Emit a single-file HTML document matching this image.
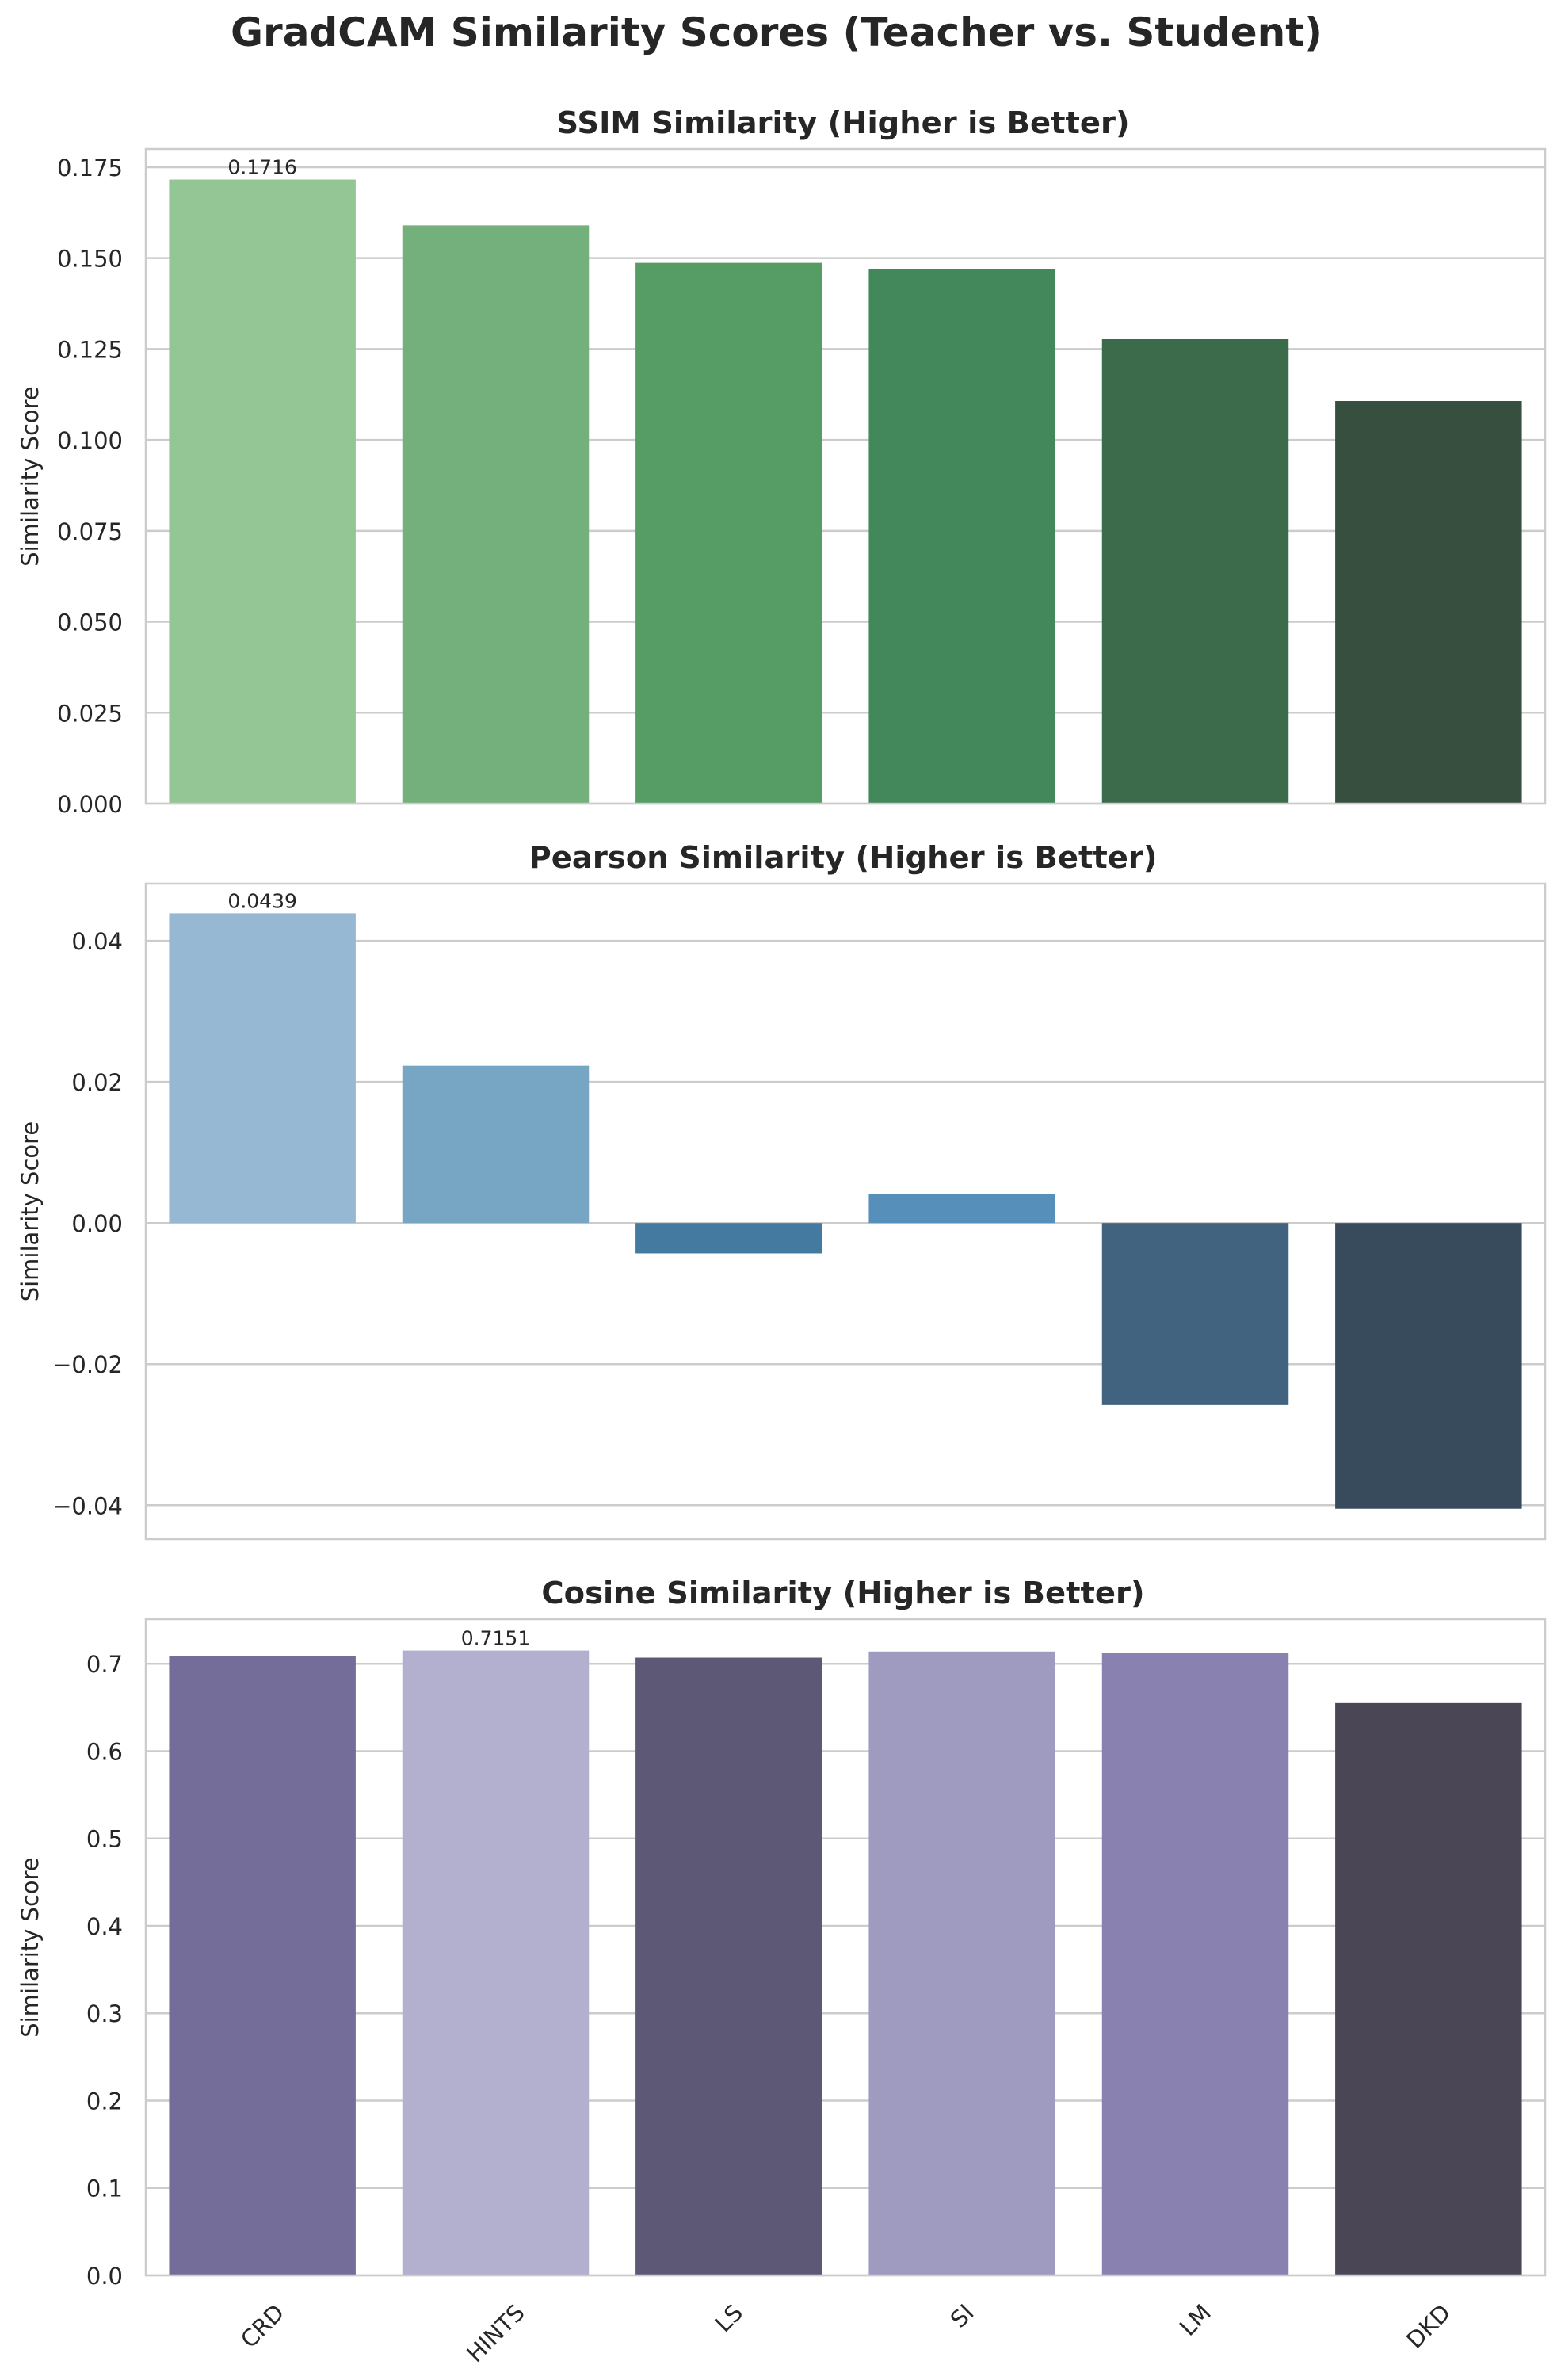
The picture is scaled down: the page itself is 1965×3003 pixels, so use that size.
<!DOCTYPE html>
<html><head><meta charset="utf-8"><style>
html,body{margin:0;padding:0;background:#fff;}
svg{display:block;font-family:"DejaVu Sans","Liberation Sans",sans-serif;}
</style></head><body>
<svg id="fig" width="1965" height="3003" viewBox="0 0 1965 3003" xmlns="http://www.w3.org/2000/svg">
<rect width="1965" height="3003" fill="#fff"/>
<text x="980" y="58" text-anchor="middle" font-size="50" font-weight="bold" fill="#262626">GradCAM Similarity Scores (Teacher vs. Student)</text>
</svg>
<script>
const categories = ["CRD","HINTS","LS","SI","LM","DKD"];
const ssimValues = [0.1716,0.159,0.1487,0.147,0.1277,0.1107];
const pearsonValues = [0.0439,0.0223,-0.0043,0.0041,-0.0258,-0.0405];
const cosineValues = [0.709,0.7151,0.707,0.714,0.712,0.655];
const ssimTicks = [0,0.025,0.05,0.075,0.1,0.125,0.15,0.175];
const ssimTickLabels = ["0.000","0.025","0.050","0.075","0.100","0.125","0.150","0.175"];
const pearsonTicks = [-0.04,-0.02,0,0.02,0.04];
const pearsonTickLabels = ["\u22120.04","\u22120.02","0.00","0.02","0.04"];
const cosineTicks = [0,0.1,0.2,0.3,0.4,0.5,0.6,0.7];
const cosineTickLabels = ["0.0","0.1","0.2","0.3","0.4","0.5","0.6","0.7"];
const ssimColors = ["#94c594","#74b07c","#559c65","#43885a","#3c6b4b","#374f3f"];
const pearsonColors = ["#96b8d2","#77a5c4","#4479a0","#568fb9","#416380","#384b5c"];
const cosineColors = ["#746c99","#b3afce","#5e5877","#9f9bc0","#8982b1","#4a4656"];

const NS="http://www.w3.org/2000/svg";
const svg=document.getElementById('fig');
function mk(tag,attrs,parent){const e=document.createElementNS(NS,tag);for(const k in attrs)e.setAttribute(k,attrs[k]);(parent||svg).appendChild(e);return e;}

function panel(key,title,vals,ticks,labels,colors,ymin,ymax,top,bottom,showX){
  const L=184,R=1950;
  const g=mk('g',{});
  
  
  const y=v=>bottom-(v-ymin)/(ymax-ymin)*(bottom-top);
  const band=(R-L)/vals.length;
  const x=i=>L+band*i+band*0.1;
  const t=mk('text',{x:(L+R)/2-3,y:top-20,'text-anchor':'middle','font-size':38.5,'font-weight':'bold',fill:'#262626'},g);
  t.textContent=title;
  
  
  ticks.forEach((v,i)=>{
    const gl=mk('line',{x1:L,x2:R,y1:y(v),y2:y(v),stroke:'#cccccc','stroke-width':2.5},g);
    
    
    const tl=mk('text',{x:L-29,y:y(v)+11,'text-anchor':'end','font-size':29,fill:'#262626'},g);
    tl.textContent=labels[i];
    
    
  });
  const zero=y(Math.max(ymin,0));
  vals.forEach((v,i)=>{
    const y0=Math.min(y(v),zero),h=Math.abs(zero-y(v));
    const r=mk('rect',{x:x(i),y:y0,width:band*0.8,height:h,fill:colors[i]},g);
    
    
  });
  let mi=0;vals.forEach((v,i)=>{if(v>vals[mi])mi=i;});
  const an=mk('text',{x:x(mi)+band*0.4,y:y(vals[mi])-7,'text-anchor':'middle','font-size':25,fill:'#262626'},g);
  an.textContent=vals[mi].toFixed(4);
  
  
  const fr=mk('rect',{x:L,y:top,width:R-L,height:bottom-top,fill:'none',stroke:'#cccccc','stroke-width':2.5},g);
  
  
  const yl=mk('text',{x:0,y:0,'text-anchor':'middle','font-size':29,fill:'#262626',transform:`translate(48,${(top+bottom)/2}) rotate(-90)`},g);
  yl.textContent='Similarity Score';
  
  
  if(showX){
    categories.forEach((c,i)=>{
      const cx=x(i)+band*0.4;
      const xl=mk('text',{x:0,y:0,'text-anchor':'middle','font-size':29,fill:'#262626','dominant-baseline':'central'},g);
      xl.textContent=c;
      
      
      const w=xl.getComputedTextLength();
      const boxH=(w+22)*0.7071;
      const cy=bottom+34+boxH/2;
      xl.setAttribute('transform',`translate(${cx},${cy}) rotate(-45)`);
    });
  }
}
panel('ssim','SSIM Similarity (Higher is Better)',ssimValues,ssimTicks,ssimTickLabels,ssimColors,0,0.180,188,1014,false);
panel('pearson','Pearson Similarity (Higher is Better)',pearsonValues,pearsonTicks,pearsonTickLabels,pearsonColors,-0.0448,0.0481,1115,1942,false);
panel('cosine','Cosine Similarity (Higher is Better)',cosineValues,cosineTicks,cosineTickLabels,cosineColors,0,0.751,2043,2871,true);
</script>
</body></html>
